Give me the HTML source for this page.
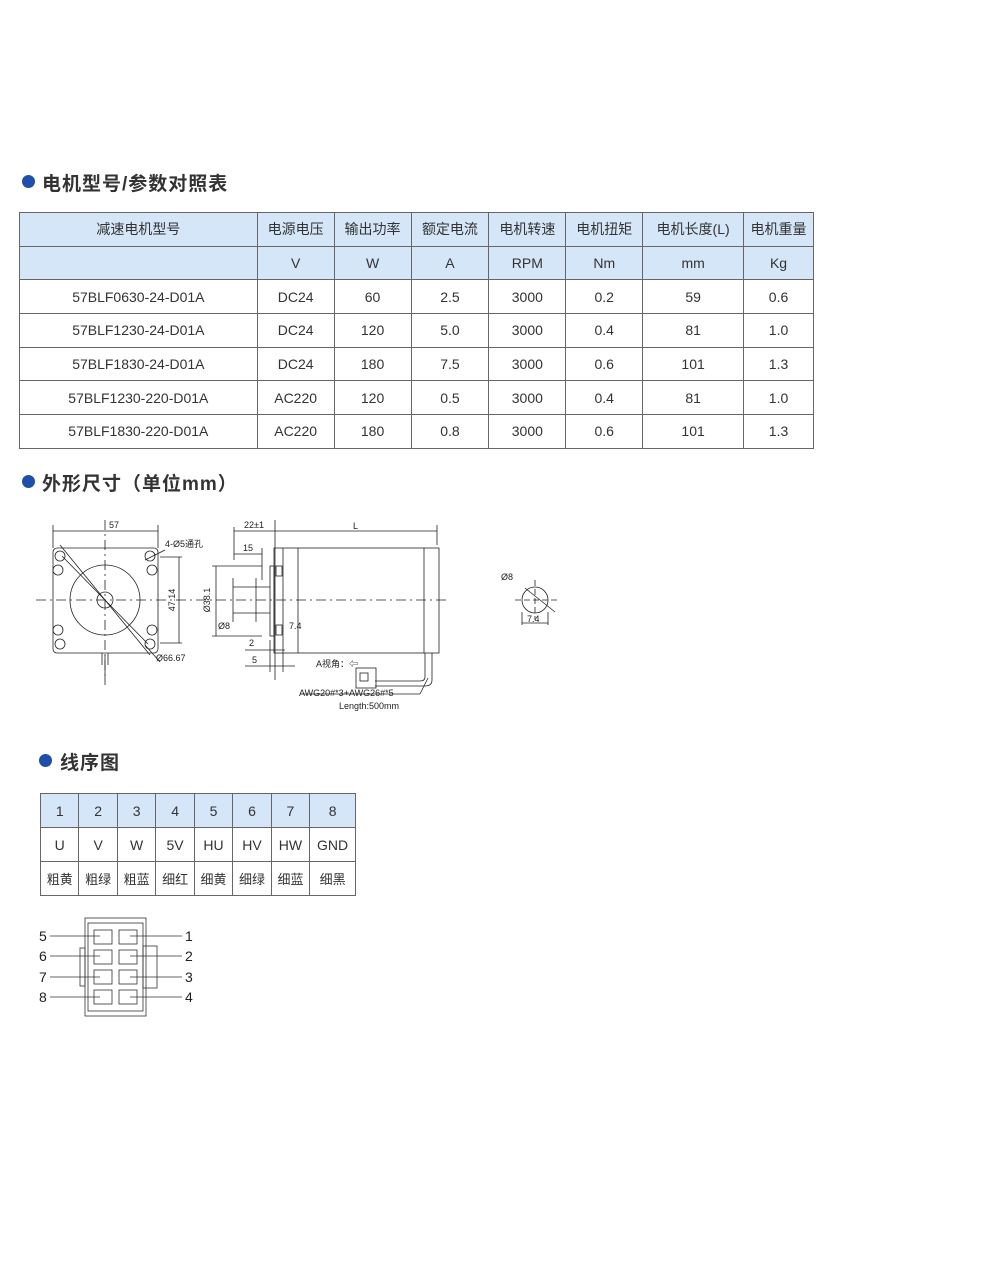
<!DOCTYPE html>
<html><head><meta charset="utf-8"><style>
body{margin:0;background:#fff;width:1000px;height:1269px;position:relative;font-family:"Liberation Sans","Noto Sans CJK SC",sans-serif;color:#333;overflow:hidden}
.h{position:absolute;font-size:19px;font-weight:bold;color:#333;letter-spacing:1px}
.dot{position:absolute;width:13px;height:13px;border-radius:50%;background:#1f4fa8}
table{position:absolute;border-collapse:collapse;font-size:14px}
td{border:1px solid #666;text-align:center;padding:0;color:#333}
.b td{background:#d4e6f7}
.t1 tr{height:33.7px}
</style></head><body>
<div class="dot" style="left:22px;top:175px"></div>
<div class="h" style="left:42px;top:169px">电机型号/参数对照表</div>
<table class="t1" style="left:19px;top:212px;width:795px">
<colgroup><col style="width:238px"><col style="width:77px"><col style="width:77px"><col style="width:78px"><col style="width:77px"><col style="width:77px"><col style="width:101px"><col style="width:70px"></colgroup>
<tr class="b"><td>减速电机型号</td><td>电源电压</td><td>输出功率</td><td>额定电流</td><td>电机转速</td><td>电机扭矩</td><td>电机长度(L)</td><td>电机重量</td></tr>
<tr class="b"><td></td><td>V</td><td>W</td><td>A</td><td>RPM</td><td>Nm</td><td>mm</td><td>Kg</td></tr>
<tr><td>57BLF0630-24-D01A</td><td>DC24</td><td>60</td><td>2.5</td><td>3000</td><td>0.2</td><td>59</td><td>0.6</td></tr>
<tr><td>57BLF1230-24-D01A</td><td>DC24</td><td>120</td><td>5.0</td><td>3000</td><td>0.4</td><td>81</td><td>1.0</td></tr>
<tr><td>57BLF1830-24-D01A</td><td>DC24</td><td>180</td><td>7.5</td><td>3000</td><td>0.6</td><td>101</td><td>1.3</td></tr>
<tr><td>57BLF1230-220-D01A</td><td>AC220</td><td>120</td><td>0.5</td><td>3000</td><td>0.4</td><td>81</td><td>1.0</td></tr>
<tr><td>57BLF1830-220-D01A</td><td>AC220</td><td>180</td><td>0.8</td><td>3000</td><td>0.6</td><td>101</td><td>1.3</td></tr>
</table>
<div class="dot" style="left:22px;top:475px"></div>
<div class="h" style="left:42px;top:469px">外形尺寸（单位mm）</div>
<svg style="position:absolute;left:0;top:500px" width="600" height="230" viewBox="0 500 600 230" font-family="Liberation Sans,Noto Sans CJK SC,sans-serif" font-size="9" fill="none" stroke="#222" stroke-width="0.8">
<rect x="53" y="548" width="105" height="105" rx="4"/>
<circle cx="105" cy="600" r="35"/><circle cx="105" cy="600" r="8"/>
<g><circle cx="60" cy="556" r="5"/><circle cx="150" cy="556" r="5"/><circle cx="60" cy="644" r="5"/><circle cx="150" cy="644" r="5"/>
<circle cx="58" cy="570" r="5"/><circle cx="152" cy="570" r="5"/><circle cx="58" cy="630" r="5"/><circle cx="152" cy="630" r="5"/></g>
<line x1="60" y1="545" x2="150" y2="655"/><line x1="62" y1="556" x2="148" y2="644"/>
<line x1="105" y1="655" x2="105" y2="680"/><line x1="102" y1="653" x2="102" y2="665"/><line x1="108" y1="653" x2="108" y2="665"/>
<line x1="36" y1="600" x2="450" y2="600" stroke-dasharray="10 4 2 4"/>
<line x1="105" y1="520" x2="105" y2="685" stroke-dasharray="10 4 2 4"/>
<line x1="53" y1="525" x2="53" y2="548"/><line x1="158" y1="525" x2="158" y2="548"/><line x1="53" y1="531" x2="158" y2="531"/>
<line x1="160" y1="557" x2="182" y2="557"/><line x1="160" y1="643" x2="182" y2="643"/><line x1="179" y1="557" x2="179" y2="643"/>
<line x1="145" y1="560" x2="165" y2="550"/>
<line x1="145" y1="645" x2="160" y2="662"/>
<rect x="274" y="548" width="165" height="105"/><line x1="283" y1="548" x2="283" y2="653"/><line x1="298" y1="548" x2="298" y2="653"/><line x1="424" y1="548" x2="424" y2="653"/>
<rect x="270" y="566" width="4" height="70"/><rect x="276" y="566" width="6" height="10"/><rect x="276" y="625" width="6" height="10"/>
<line x1="233" y1="587" x2="270" y2="587"/><line x1="233" y1="613" x2="270" y2="613"/>
<line x1="233" y1="578" x2="233" y2="622"/><line x1="256" y1="578" x2="256" y2="622"/>
<line x1="234" y1="527" x2="234" y2="560"/><line x1="275" y1="520" x2="275" y2="680"/><line x1="234" y1="531" x2="275" y2="531"/>
<line x1="437" y1="525" x2="437" y2="545"/><line x1="275" y1="531" x2="437" y2="531"/>
<line x1="234" y1="554" x2="262" y2="554"/><line x1="262" y1="548" x2="262" y2="580"/>
<line x1="212" y1="566" x2="262" y2="566"/><line x1="212" y1="636" x2="262" y2="636"/><line x1="216" y1="566" x2="216" y2="636"/>
<line x1="245" y1="650" x2="285" y2="650"/><line x1="245" y1="666" x2="295" y2="666"/><line x1="270" y1="640" x2="270" y2="672"/><line x1="283" y1="653" x2="283" y2="672"/>
<path d="M425 653 V677 Q425 681 420 681 H375 M432 653 V680 Q432 686 425 686 H375"/>
<rect x="356" y="668" width="20" height="20"/><rect x="360" y="673" width="8" height="8"/>
<line x1="300" y1="694" x2="420" y2="694"/><line x1="420" y1="694" x2="428" y2="678"/>
<circle cx="535" cy="600" r="13"/><line x1="515" y1="600" x2="557" y2="600" stroke-dasharray="6 3"/><line x1="535" y1="580" x2="535" y2="620" stroke-dasharray="6 3"/>
<line x1="522" y1="612" x2="522" y2="625"/><line x1="548" y1="612" x2="548" y2="625"/><line x1="522" y1="623" x2="548" y2="623"/><line x1="525" y1="588" x2="555" y2="612"/>
<g fill="#222" stroke="none">
<text x="109" y="528">57</text><text x="165" y="547">4-Ø5通孔</text><text x="175" y="600" transform="rotate(-90 175 600)" text-anchor="middle">47.14</text>
<text x="156" y="661">Ø66.67</text>
<text x="244" y="528">22±1</text><text x="353" y="529">L</text><text x="243" y="551">15</text>
<text x="210" y="600" transform="rotate(-90 210 600)" text-anchor="middle">Ø38.1</text>
<text x="218" y="629">Ø8</text><text x="289" y="629">7.4</text><text x="249" y="646">2</text><text x="252" y="663">5</text>
<text x="316" y="667">A视角：⇦</text><text x="299" y="696">AWG20#*3+AWG26#*5</text><text x="339" y="709">Length:500mm</text>
<text x="501" y="580">Ø8</text><text x="527" y="622">7.4</text></g>
</svg>
<div class="dot" style="left:39px;top:754px"></div>
<div class="h" style="left:60px;top:748px">线序图</div>
<table style="left:40px;top:793px;width:316px">
<tr class="b" style="height:34px"><td>1</td><td>2</td><td>3</td><td>4</td><td>5</td><td>6</td><td>7</td><td>8</td></tr>
<tr style="height:34px"><td>U</td><td>V</td><td>W</td><td>5V</td><td>HU</td><td>HV</td><td>HW</td><td>GND</td></tr>
<tr style="height:34px;font-size:13px"><td>粗黄</td><td>粗绿</td><td>粗蓝</td><td>细红</td><td>细黄</td><td>细绿</td><td>细蓝</td><td>细黑</td></tr>
</table>
<svg style="position:absolute;left:30px;top:910px" width="180" height="110" viewBox="0 0 180 110" fill="none" stroke="#333" stroke-width="0.8" font-family="Liberation Sans,sans-serif" font-size="14">
<rect x="58" y="13" width="55" height="88"/><rect x="55" y="8" width="61" height="98"/>
<rect x="113" y="36" width="14" height="42"/><rect x="50" y="38" width="5" height="38"/>
<g><rect x="64" y="20" width="18" height="14"/><rect x="89" y="20" width="18" height="14"/>
<rect x="64" y="40" width="18" height="14"/><rect x="89" y="40" width="18" height="14"/>
<rect x="64" y="60" width="18" height="14"/><rect x="89" y="60" width="18" height="14"/>
<rect x="64" y="80" width="18" height="14"/><rect x="89" y="80" width="18" height="14"/></g>
<line x1="20" y1="26" x2="70" y2="26"/><line x1="20" y1="46" x2="70" y2="46"/><line x1="20" y1="67" x2="70" y2="67"/><line x1="20" y1="87" x2="70" y2="87"/>
<line x1="100" y1="26" x2="152" y2="26"/><line x1="100" y1="46" x2="152" y2="46"/><line x1="100" y1="67" x2="152" y2="67"/><line x1="100" y1="87" x2="152" y2="87"/>
<g fill="#222" stroke="none"><text x="9" y="31">5</text><text x="9" y="51">6</text><text x="9" y="72">7</text><text x="9" y="92">8</text>
<text x="155" y="31">1</text><text x="155" y="51">2</text><text x="155" y="72">3</text><text x="155" y="92">4</text></g>
</svg>
</body></html>
